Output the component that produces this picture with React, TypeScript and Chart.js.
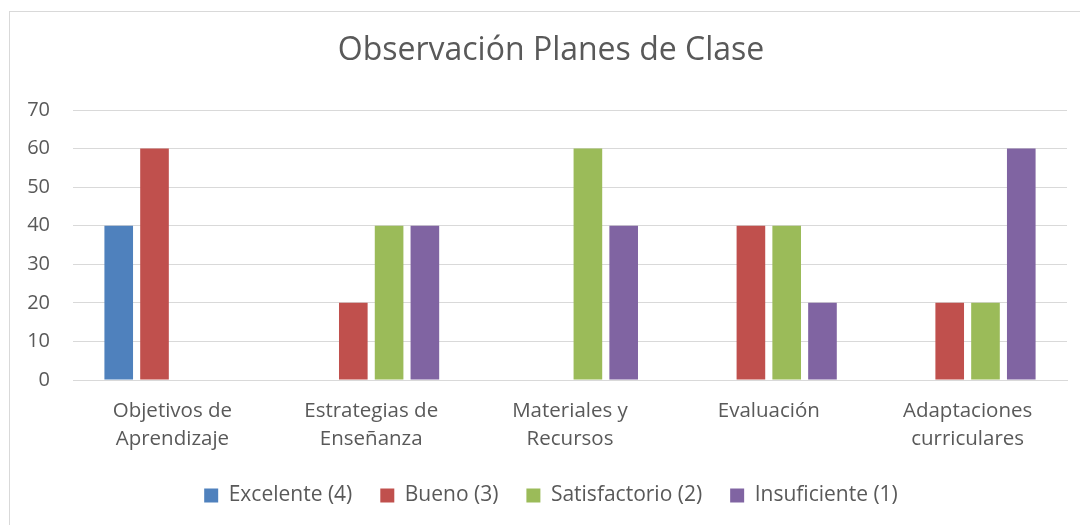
import React, { useEffect, useRef } from "react";
import { Chart, registerables } from "chart.js";

Chart.register(...registerables);

const categories: string[][] = [
  ["Objetivos de", "Aprendizaje"],
  ["Estrategias de", "Enseñanza"],
  ["Materiales y", "Recursos"],
  ["Evaluación"],
  ["Adaptaciones", "curriculares"],
];
const excelente = [40, 0, 0, 0, 0];
const bueno = [60, 20, 0, 40, 20];
const satisfactorio = [0, 40, 60, 40, 20];
const insuficiente = [0, 40, 40, 20, 60];
const seriesNames = ["Excelente (4)", "Bueno (3)", "Satisfactorio (2)", "Insuficiente (1)"];
const seriesColors = ["#4F81BD", "#C0504D", "#9BBB59", "#8064A2"];
const titleText = "Observación Planes de Clase";

const FONT = "'Open Sans', 'Noto Sans', sans-serif";
const TEXT = "#595959";

export default function App() {
  const ref = useRef<HTMLCanvasElement | null>(null);
  useEffect(() => {
    if (!ref.current) return;
    const values = [excelente, bueno, satisfactorio, insuficiente];
    const chart = new Chart(ref.current, {
      type: "bar",
      data: {
        labels: categories,
        datasets: values.map((v, i) => ({
          label: seriesNames[i],
          data: v,
          backgroundColor: seriesColors[i],
          borderWidth: 0,
          categoryPercentage: 0.72,
          barPercentage: 0.8,
        })),
      },
      options: {
        responsive: false,
        animation: false,
        layout: { padding: { left: 22, right: 0, top: 20, bottom: 9 } },
        plugins: {
          title: {
            display: true,
            text: titleText,
            color: TEXT,
            font: { family: FONT, size: 32, weight: "normal", lineHeight: 1.2 },
            padding: { top: 12, bottom: 39.6 },
          },
          legend: {
            position: "bottom",
            labels: {
              color: TEXT,
              font: { family: FONT, size: 21 },
              boxWidth: 14,
              boxHeight: 14,
              padding: 28,
            },
          },
          tooltip: { enabled: false },
        },
        scales: {
          x: {
            grid: { display: false, drawTicks: false },
            border: { display: true, color: "#D9D9D9", width: 1 },
            ticks: {
              color: TEXT,
              font: { family: FONT, size: 20.5, lineHeight: 1.37 },
              padding: 17,
              maxRotation: 0,
              autoSkip: false,
            },
            afterFit: (s: any) => {
              s.paddingLeft = 0;
              s.paddingRight = 13;
              s.height = 77;
            },
          },
          y: {
            min: 0,
            max: 70,
            grid: { color: "#D9D9D9", drawTicks: false },
            border: { display: false },
            ticks: {
              stepSize: 10,
              color: TEXT,
              font: { family: FONT, size: 20 },
              padding: 23,
            },
            afterFit: (s: any) => {
              s.width = 51;
            },
          },
        },
      },
    });
    return () => chart.destroy();
  }, []);
  return (
    <div style={{ position: "fixed", left: 0, top: 0, width: 1080, height: 525, background: "#fff", overflow: "hidden" }}>
      <div
        style={{
          position: "absolute",
          left: 9,
          top: 11,
          width: 1090,
          height: 530,
          border: "1px solid #D9D9D9",
          boxSizing: "border-box",
        }}
      />
      <canvas ref={ref} width={1080} height={525} style={{ position: "absolute", left: 0, top: 0 }} />
    </div>
  );
}
